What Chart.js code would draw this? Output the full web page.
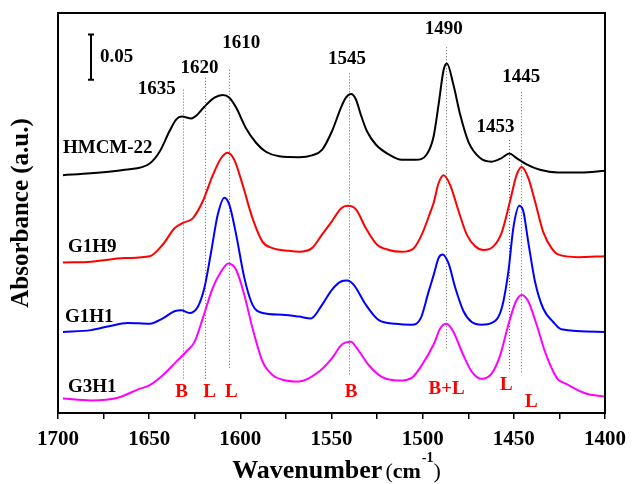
<!DOCTYPE html>
<html>
<head>
<meta charset="utf-8">
<script src="https://cdn.jsdelivr.net/npm/chart.js@4.4.1/dist/chart.umd.min.js"></script>
<style>
  html, body { margin: 0; padding: 0; background: #fff; }
</style>
</head>
<body>
<canvas id="irChart" width="634" height="484"></canvas>
<script>
// absorbance values in units of 0.01 a.u., spectra already offset as in the figure
const hmcmWave = [1697.3,1682.0,1663.4,1649.7,1644.3,1638.8,1635.1,1632.1,1626.9,1624.2,1619.7,1614.2,1609.7,1606.0,1602.3,1596.9,1591.4,1586.0,1578.7,1567.8,1560.7,1555.2,1549.7,1544.8,1542.1,1539.3,1536.6,1533.9,1530.6,1525.7,1518.6,1511.5,1503.8,1497.8,1494.0,1491.3,1488.5,1486.7,1483.1,1479.4,1474.9,1468.5,1462.1,1456.7,1452.5,1448.5,1443.0,1435.7,1425.7,1413.1,1400.0];
const hmcmAbs = [26.4,26.6,27.0,27.7,29.0,31.3,32.6,32.9,32.7,33.0,34.0,35.0,35.3,35.0,33.9,31.6,30.0,29.0,28.5,28.4,28.6,29.2,31.3,33.9,35.0,35.4,34.8,33.1,31.3,29.8,28.7,28.1,28.1,28.7,30.7,34.2,38.1,38.8,36.4,33.1,30.1,28.3,27.9,28.3,28.8,28.3,27.6,27.0,26.7,26.7,26.9];

const g1h9Wave = [1697.3,1682.0,1663.4,1649.7,1642.5,1636.1,1631.5,1626.1,1620.6,1615.1,1610.5,1606.9,1603.3,1598.7,1593.3,1587.8,1582.3,1573.2,1567.8,1560.7,1555.2,1549.7,1544.8,1541.0,1536.6,1531.1,1525.1,1518.6,1511.5,1504.9,1500.5,1495.6,1494.0,1491.3,1488.5,1484.9,1480.3,1475.8,1471.2,1466.7,1461.2,1456.7,1452.1,1448.5,1445.7,1442.1,1438.4,1433.9,1429.3,1425.7,1414.8,1400.0];
const g1h9Abs = [16.7,16.8,17.2,17.4,18.7,20.5,21.1,21.6,23.5,26.4,28.3,28.9,28.1,25.3,21.6,19.0,18.3,18.0,17.9,18.3,19.8,21.3,22.7,23.0,22.6,20.5,18.7,18.1,17.9,18.3,19.8,22.4,23.3,25.5,26.4,25.3,22.4,19.8,18.5,18.1,18.5,20.0,23.5,26.4,27.3,26.1,23.5,20.1,18.3,17.6,17.3,17.4];

const g1h1Wave = [1697.3,1682.0,1672.7,1661.7,1649.7,1642.5,1636.1,1632.4,1627.9,1623.3,1619.7,1616.0,1612.4,1608.7,1606.0,1602.3,1597.8,1593.3,1587.8,1576.9,1567.8,1561.2,1555.2,1549.7,1544.8,1541.5,1537.7,1531.1,1524.0,1514.8,1506.0,1501.1,1496.7,1494.0,1491.3,1489.1,1485.8,1482.1,1477.6,1473.1,1467.6,1462.1,1456.7,1453.0,1450.3,1447.0,1444.8,1442.1,1438.4,1433.9,1428.4,1424.0,1400.0];
const g1h1Abs = [9.0,9.2,9.6,10.0,9.9,10.5,11.3,11.4,11.1,11.8,13.9,17.9,22.0,23.9,23.1,19.8,15.0,12.0,11.1,10.9,10.7,10.5,12.0,13.7,14.6,14.7,14.2,12.0,10.3,9.9,9.8,10.5,13.5,15.3,17.2,17.6,16.6,13.9,11.3,10.1,9.8,10.0,11.6,15.7,20.5,23.0,22.4,19.0,14.6,11.6,10.1,9.3,9.0];

const g3h1Wave = [1697.3,1682.0,1667.2,1656.3,1649.7,1642.5,1635.1,1629.7,1625.1,1620.6,1615.1,1610.5,1606.6,1602.3,1597.8,1593.3,1587.8,1582.3,1576.9,1567.8,1556.8,1549.7,1544.3,1539.3,1536.1,1529.5,1522.4,1513.1,1506.0,1500.5,1494.0,1490.3,1487.0,1483.1,1478.5,1473.1,1467.6,1462.1,1457.5,1453.0,1448.8,1445.7,1442.1,1437.5,1432.9,1428.4,1425.7,1421.9,1410.9,1400.0];
const g3h1Abs = [1.6,1.4,1.7,2.6,3.1,4.2,5.7,6.8,7.9,10.5,13.9,15.7,16.6,15.9,13.1,9.4,5.7,4.2,3.7,3.5,4.6,6.1,7.6,7.9,7.2,5.3,4.0,3.6,3.9,5.3,7.6,9.4,9.9,9.0,6.8,4.6,3.8,4.4,6.4,9.8,12.4,13.1,12.4,9.8,6.8,4.6,3.7,3.3,2.2,1.8];

const sampleNames = ['HMCM-22', 'G1H9', 'G1H1', 'G3H1'];
const wavenumberTicks = [1700, 1650, 1600, 1550, 1500, 1450, 1400];

// dotted marker lines: label, wavenumber, from / to (0.01 a.u.)
const peakLabels = ['1635', '1620', '1610', '1545', '1490', '1453', '1445'];
const peakWave = [1631.5, 1619.3, 1606.4, 1540.4, 1487.3, 1452.5, 1446.1];
const peakTop = [35.9, 37.2, 38.1, 37.7, 40.6, 30.3, 35.6];
const peakBottom = [3.7, 3.7, 4.8, 4.2, 7.0, 4.8, 4.4];

const siteLabels = ['B', 'L', 'L', 'B', 'B+L', 'L', 'L'];
const scaleBar = 5; // 0.05 a.u.

// where the texts sit (data coords)
const peakLabelPos = [[1645.9, 36.0], [1622.4, 38.3], [1599.5, 41.1], [1541.5, 39.3], [1488.5, 42.6], [1460.1, 31.7], [1445.9, 37.3]];
const siteLabelPos = [[1632.2, 2.3], [1616.9, 2.3], [1604.9, 2.3], [1539.3, 2.3], [1486.9, 2.6], [1454.1, 3.1], [1440.4, 1.2]];
const nameLabelPos = [[1697.3, 29.4], [1694.5, 18.4], [1696.2, 10.7], [1694.5, 2.9]];
const scaleBarPos = [1682.0, 37.0];

const serif = '"Liberation Serif", "Times New Roman", serif';
const colors = ['#000000', '#ff0000', '#0000ff', '#ff00ff'];

const waves = [hmcmWave, g1h9Wave, g1h1Wave, g3h1Wave];
const absVals = [hmcmAbs, g1h9Abs, g1h1Abs, g3h1Abs];

const datasets = sampleNames.map((name, i) => ({
    label: name,
    data: waves[i].map((w, j) => ({ x: w, y: absVals[i][j] })),
    borderColor: colors[i],
    borderWidth: 2,
    pointRadius: 0,
    cubicInterpolationMode: 'monotone',
    fill: false
}));

const annotate = {
    id: 'annotate',
    beforeDatasetsDraw(chart) {
        const { ctx, scales: { x, y } } = chart;
        ctx.save();
        ctx.strokeStyle = '#666';
        ctx.lineWidth = 1;
        ctx.setLineDash([1, 2]);
        peakWave.forEach((w, i) => {
            const px = Math.round(x.getPixelForValue(w)) + 0.5;
            ctx.beginPath();
            ctx.moveTo(px, y.getPixelForValue(peakTop[i]));
            ctx.lineTo(px, y.getPixelForValue(peakBottom[i]));
            ctx.stroke();
        });
        ctx.restore();
    },
    afterDatasetsDraw(chart) {
        const { ctx, chartArea: a, scales: { x, y } } = chart;
        ctx.save();
        // frame
        ctx.strokeStyle = '#000';
        ctx.lineWidth = 2;
        ctx.strokeRect(a.left, a.top, a.right - a.left, a.bottom - a.top);

        ctx.textBaseline = 'middle';
        ctx.fillStyle = '#000';
        ctx.font = 'bold 19px ' + serif;
        ctx.textAlign = 'center';
        peakLabels.forEach((t, i) => {
            ctx.fillText(t, x.getPixelForValue(peakLabelPos[i][0]), y.getPixelForValue(peakLabelPos[i][1]));
        });

        ctx.textAlign = 'left';
        sampleNames.forEach((t, i) => {
            ctx.fillText(t, x.getPixelForValue(nameLabelPos[i][0]), y.getPixelForValue(nameLabelPos[i][1]));
        });

        ctx.fillStyle = '#ff0000';
        ctx.textAlign = 'center';
        siteLabels.forEach((t, i) => {
            ctx.fillText(t, x.getPixelForValue(siteLabelPos[i][0]), y.getPixelForValue(siteLabelPos[i][1]));
        });

        // 0.05 scale bar
        const bx = Math.round(x.getPixelForValue(scaleBarPos[0]));
        const by0 = y.getPixelForValue(scaleBarPos[1]);
        const by1 = y.getPixelForValue(scaleBarPos[1] + scaleBar);
        ctx.strokeStyle = '#000';
        ctx.lineWidth = 2;
        ctx.beginPath();
        ctx.moveTo(bx, by0); ctx.lineTo(bx, by1);
        ctx.moveTo(bx - 3, by0); ctx.lineTo(bx + 3, by0);
        ctx.moveTo(bx - 3, by1); ctx.lineTo(bx + 3, by1);
        ctx.stroke();
        ctx.fillStyle = '#000';
        ctx.textAlign = 'left';
        ctx.fillText((scaleBar / 100).toFixed(2), bx + 9, (by0 + by1) / 2);

        // x axis title with superscript
        const parts = [
            { t: 'Wavenumber', f: 'bold 26px ', dy: 0, gap: 3 },
            { t: '(', f: '22px ', dy: 0, gap: 0 },
            { t: 'cm', f: 'bold 22px ', dy: 0, gap: 1 },
            { t: '-1', f: 'bold 14px ', dy: -16, gap: 0 },
            { t: ')', f: '22px ', dy: 0, gap: 0 }
        ];
        let total = 0;
        parts.forEach(p => { ctx.font = p.f + serif; p.w = ctx.measureText(p.t).width; total += p.w + p.gap; });
        let cx = (a.left + a.right) / 2 + 5 - total / 2;
        const base = chart.height - 6;
        ctx.textBaseline = 'alphabetic';
        parts.forEach(p => {
            ctx.font = p.f + serif;
            ctx.fillText(p.t, cx, base + p.dy);
            cx += p.w + p.gap;
        });
        ctx.restore();
    }
};

new Chart(document.getElementById('irChart'), {
    type: 'line',
    data: { datasets: datasets },
    options: {
        responsive: false,
        animation: false,
        layout: { padding: { top: 13, right: 27, left: 0, bottom: 0 } },
        plugins: { legend: { display: false }, tooltip: { enabled: false } },
        scales: {
            x: {
                type: 'linear',
                reverse: true,
                min: 1400,
                max: 1700,
                border: { display: false },
                grid: { display: true, drawOnChartArea: false, tickLength: 6, color: '#000', lineWidth: 1.5 },
                ticks: {
                    stepSize: 25,
                    padding: 8,
                    autoSkip: false,
                    maxRotation: 0,
                    minRotation: 0,
                    color: '#000',
                    font: { family: serif, size: 21, weight: 'bold' },
                    callback: v => wavenumberTicks.includes(v) ? String(v) : ''
                },
                afterFit: s => { s.height = 71; }
            },
            y: {
                min: 0,
                max: 44.4,
                border: { display: false },
                grid: { display: false },
                ticks: { display: false },
                title: {
                    display: true,
                    text: 'Absorbance (a.u.)',
                    color: '#000',
                    font: { family: serif, size: 25, weight: 'bold' },
                    padding: { top: 7, bottom: 0 }
                },
                afterFit: s => { s.width = 58; }
            }
        }
    },
    plugins: [annotate]
});
</script>
</body>
</html>
